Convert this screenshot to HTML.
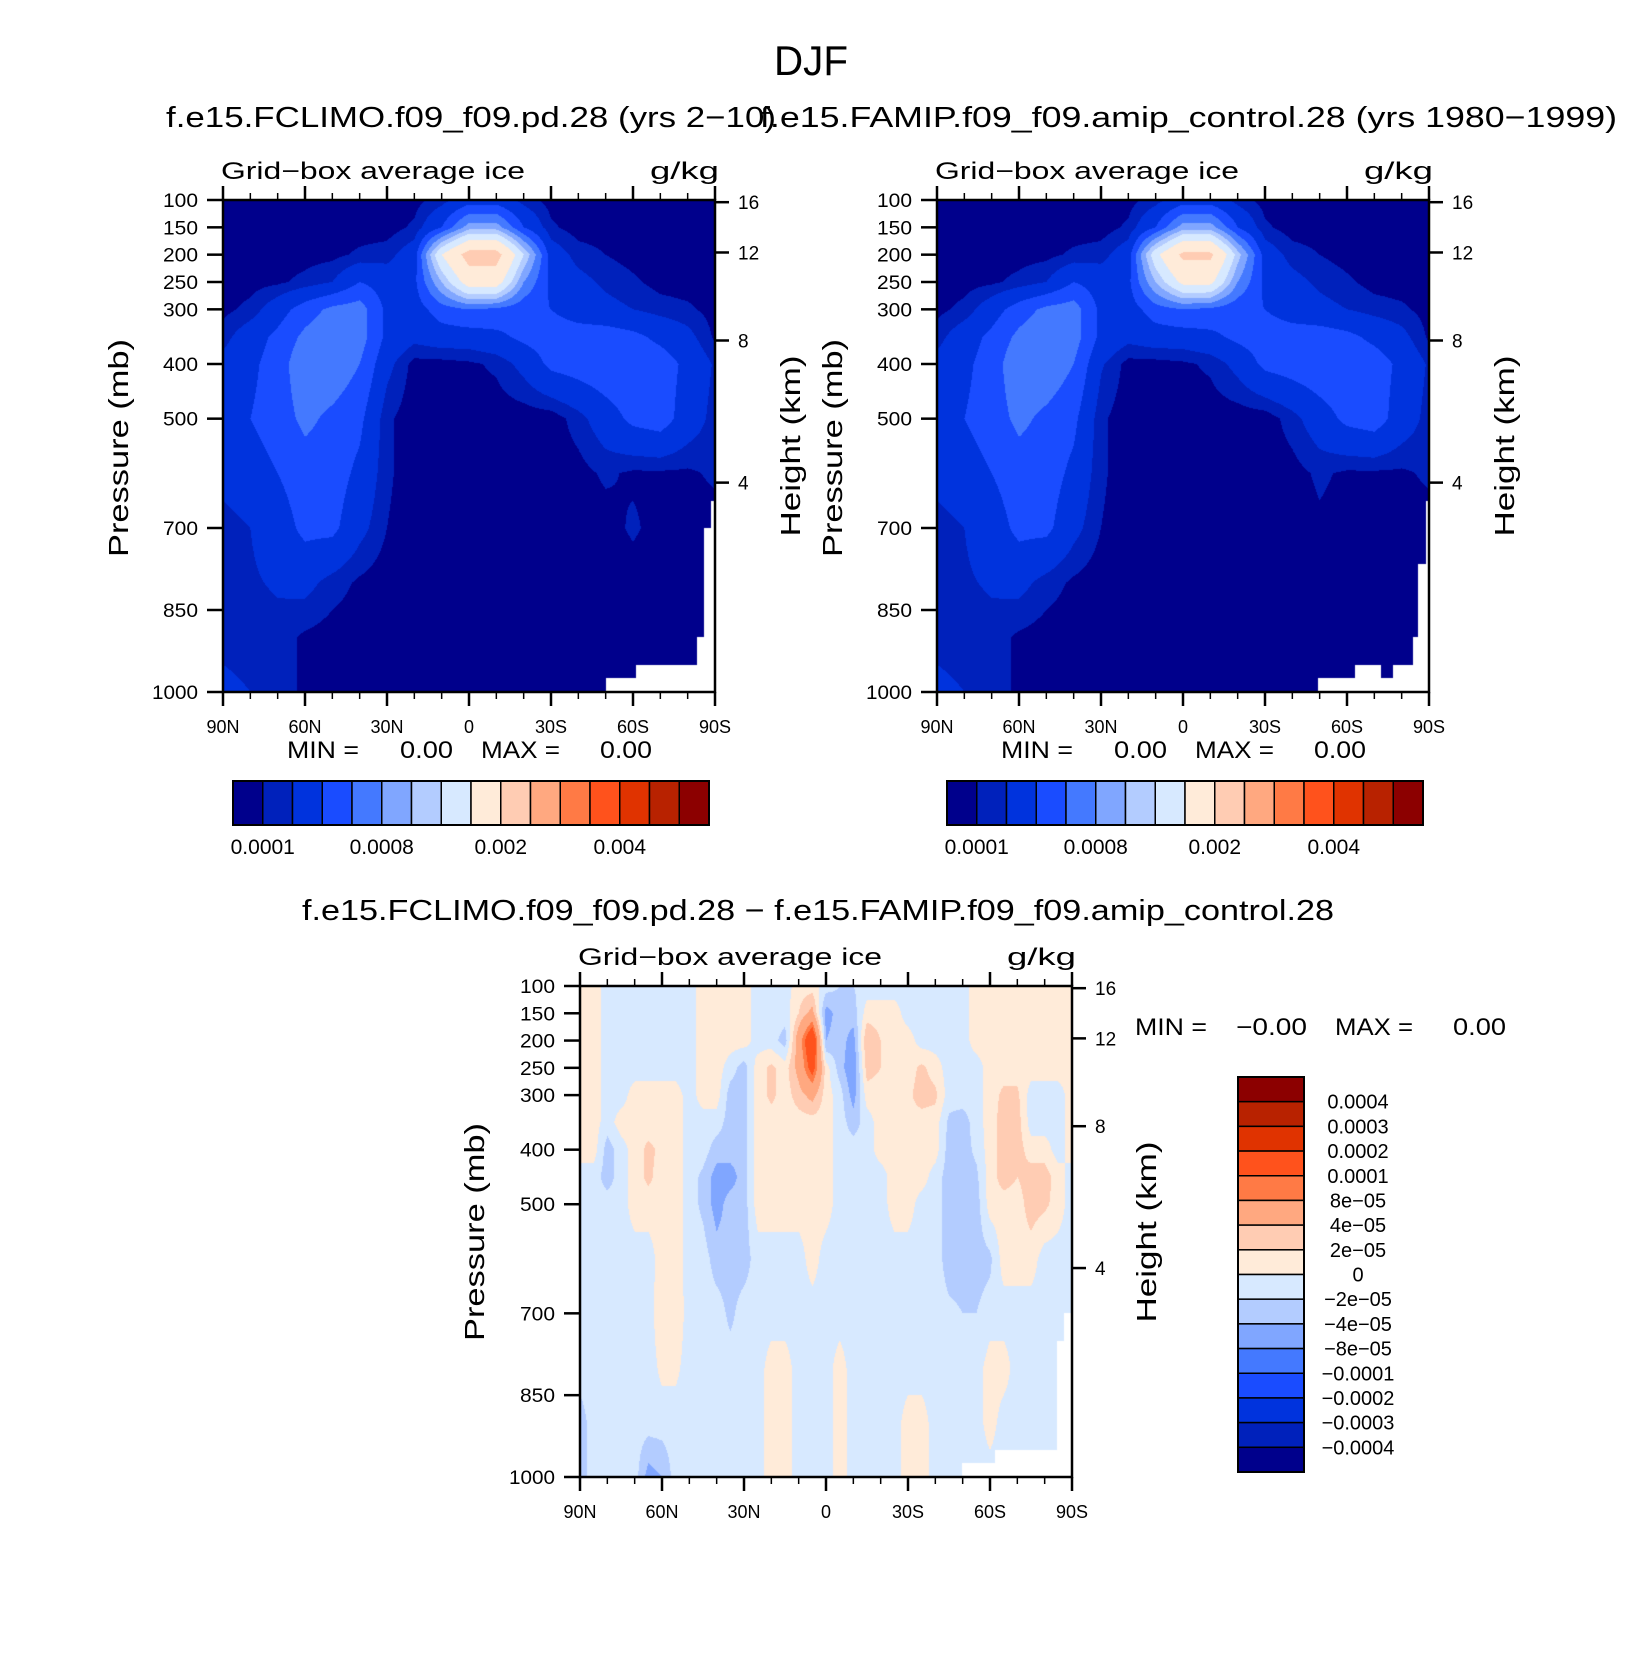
<!DOCTYPE html>
<html><head><meta charset="utf-8">
<style>
html,body{margin:0;padding:0;background:#fff;}
#root{position:relative;width:1652px;height:1677px;overflow:hidden;background:#fff;}
canvas{position:absolute;}
svg{position:absolute;left:0;top:0;}
text{font-family:"Liberation Sans",sans-serif;fill:#000;}
</style></head>
<body>
<div id="root">
<canvas id="c1" width="492" height="492" style="left:223px;top:200px"></canvas>
<canvas id="c2" width="492" height="492" style="left:937px;top:200px"></canvas>
<canvas id="c3" width="492" height="491" style="left:580px;top:986px"></canvas>
<svg id="ov" width="1652" height="1677" viewBox="0 0 1652 1677">
<text x="811" y="75" font-size="42" text-anchor="middle" textLength="74" lengthAdjust="spacingAndGlyphs">DJF</text>
<text x="166" y="127" font-size="29" textLength="610" lengthAdjust="spacingAndGlyphs">f.e15.FCLIMO.f09_f09.pd.28 (yrs 2−10)</text>
<text x="760" y="127" font-size="29" textLength="857" lengthAdjust="spacingAndGlyphs">f.e15.FAMIP.f09_f09.amip_control.28 (yrs 1980−1999)</text>
<text x="302" y="920" font-size="29" textLength="1032" lengthAdjust="spacingAndGlyphs">f.e15.FCLIMO.f09_f09.pd.28 − f.e15.FAMIP.f09_f09.amip_control.28</text>
</svg>
</div>
<script>
// ---------- data ----------
const lats10 = [90,80,70,60,50,40,30,20,10,0,-10,-20,-30,-40,-50,-60,-70,-80,-90];
const presTop = [100,150,200,250,300,350,400,500,600,700,800,900,1000];
// grid-box average ice, units of 1e-4 g/kg (rows = pressure, cols = latitude 90N..90S)
const iceClimo = [
[0.5,0.5,0.5,0.5,0.5,0.5,0.5,0.6,1.5,3,3,1.5,0.6,0.5,0.5,0.5,0.5,0.5,0.5],
[0.5,0.5,0.5,0.5,0.5,0.5,0.5,1.2,4,9,9,4,1.2,0.5,0.5,0.5,0.5,0.5,0.5],
[0.5,0.5,0.5,0.6,0.7,1.2,1.5,3,15,22,22,12,3,1.5,1,0.6,0.5,0.5,0.5],
[0.5,0.6,0.8,1.3,2,4,3,3.5,10,17,17,8,3.5,2.5,1.7,1.2,0.6,0.5,0.5],
[0.7,1.3,3,5,6.5,7,3.5,3,5,6,5.5,4.5,4,3,2.5,2,1.5,1.2,0.6],
[1.5,3,4.5,6.5,7.5,7,3.5,2.5,3,3,3.5,4.5,5,5,5,4.5,3.5,2.5,0.8],
[2.5,3.5,5,7.5,7.5,6,2.5,0.6,0.6,0.8,1.2,2.5,4.5,5,5.5,5.5,5,3.5,1.8],
[3,4,5,6.5,5.5,4.5,1.2,0.4,0.4,0.4,0.4,0.4,0.4,1.5,3,4.5,5,3,1.5],
[2.5,3,4,5,5,3.5,1.2,0.4,0.4,0.4,0.4,0.4,0.4,0.6,1.2,0.8,0.8,0.8,1.2],
[1.5,2,3,4.5,4.5,2.5,1,0.4,0.4,0.4,0.4,0.4,0.4,0.4,0.5,1.2,0.5,0.5,0.5],
[1.5,1.8,2.2,2.5,1.5,0.8,0.4,0.4,0.4,0.4,0.4,0.4,0.4,0.4,0.4,0.4,0.4,0.4,0.4],
[1.5,1.3,1.5,0.8,0.5,0.4,0.4,0.4,0.4,0.4,0.4,0.4,0.4,0.4,0.4,0.4,0.4,0.4,0.4],
[2.5,2,1.5,0.8,0.4,0.4,0.4,0.4,0.4,0.4,0.4,0.4,0.4,0.4,0.4,0.4,0.4,0.4,0.4]
];
const iceAmip = [
[0.5,0.5,0.5,0.5,0.5,0.5,0.5,0.6,1.5,3,3,1.5,0.6,0.5,0.5,0.5,0.5,0.5,0.5],
[0.5,0.5,0.5,0.5,0.5,0.5,0.5,1.2,4,9,9,4,1.2,0.5,0.5,0.5,0.5,0.5,0.5],
[0.5,0.5,0.5,0.6,0.7,1.2,1.5,3,14,21,21,11,3,1.5,1,0.6,0.5,0.5,0.5],
[0.5,0.6,0.8,1.3,2,4,3,3.5,10,16,16,8,3.5,2.5,1.7,1.2,0.6,0.5,0.5],
[0.7,1.3,3,5,6.5,7,3.5,3,5,6,5.5,4.5,4,3,2.5,2,1.5,1.2,0.6],
[1.5,3,4.5,6.5,7.5,7,3.5,2.5,3,3,3.5,4.5,5,5,5,4.5,3.5,2.5,0.8],
[2.5,3.5,5,7.5,7.5,6,2.2,0.6,0.6,0.8,1.2,2.5,4.5,5,5.5,5.5,5,3.5,1.8],
[3,4,5,6.5,5.5,4.5,1.2,0.4,0.4,0.4,0.4,0.4,0.4,1.5,3,4.5,5,3,1.5],
[2.5,3,4,5,5,3.5,1.2,0.4,0.4,0.4,0.4,0.4,0.4,0.6,1.2,0.8,0.8,0.8,1.2],
[1.5,2,3,4.5,4.5,2.5,1,0.4,0.4,0.4,0.4,0.4,0.4,0.4,0.8,0.5,0.5,0.5,0.5],
[1.5,1.8,2.2,2.5,1.5,0.8,0.4,0.4,0.4,0.4,0.4,0.4,0.4,0.4,0.4,0.4,0.4,0.4,0.4],
[1.5,1.3,1.5,0.8,0.5,0.4,0.4,0.4,0.4,0.4,0.4,0.4,0.4,0.4,0.4,0.4,0.4,0.4,0.4],
[2.5,2,1.5,0.8,0.4,0.4,0.4,0.4,0.4,0.4,0.4,0.4,0.4,0.4,0.4,0.4,0.4,0.4,0.4]
];
const levelsTop = [1,2,4,6,8,10,12,15,20,25,30,35,40,45,50];
const lats5 = [90,85,80,75,70,65,60,55,50,45,40,35,30,25,20,15,10,5,0,-5,-10,-15,-20,-25,-30,-35,-40,-45,-50,-55,-60,-65,-70,-75,-80,-85,-90];
const presDiff = [100,150,200,250,300,350,400,450,500,600,700,800,900,1000];
// difference, units of 1e-5 g/kg
const iceDiff = [
[1,1,-1,-1,-1,-1,-1,-1,-1, 1,1,1,1, -1,-1,-1, 1,1, -1,-2,-2,-1,-1,-1,-1,-1,-1,-1,-1, 1,1,1,1,1,1,1,1],
[1,1,-1,-1,-1,-1,-1,-1,-1, 1,1,1,1, -1,-1,-1, 2,5, -5,-3,-3,1,1,1,-1,-1,-1,-1,-1, 1,1,1,1,1,1,1,1],
[1,1,-1,-1,-1,-1,-1,-1,-1, 1,1,1,1, -1,-1,-3, 6,15, -4,-3,-5,4,2,1,1,-1,-1,-1,-1, 1,1,1,1,1,1,1,1],
[1,1,-1,-1,-1,-1,-1,-1,-1, 1,1,-1,-3, 1,2.5,1, 5,12, 1,-3,-6,3,2,1.5,1,2.5,1,-1,-1, -1,1,1,1,1,1,1,1],
[1,1,-1,-1,1,1,1,1,-1, 1,1,-3,-3, 1,2.5,1, 3,5, 1,-1,-5,1,1,1.5,1.5,3,2.5,-1,-1, -1,1,2.5,2.5,-1,-1,-1,1],
[1,1,-1,1,1,1,1,1,-1, -1,-1,-3,-3, 1,1,1, 1,1, 1,-1,-3,-1,1,1,1.5,1,1,-2.5,-3, -1,1,3,3,-1,-1,-1,1],
[1,1,-3,-1,1,2.5,1.5,1,-1, -1,-3,-3,-3, 1,1,1, 1,1, 1,-1,-1,-1,1,1,1,1,1,-3,-3, -1.5,1,3,3,1,1,-1,1],
[-1,-1,-3,-1,1,2.5,1,1,-1, -2.5,-5,-5,-3, 1,1,1, 1,1, 1,-1,-1,-1,-1,1,1,1,-1,-3,-3, -2.5,1,3,2,3,3,1,-1],
[-1,-1,-1,-1,1,1,1,1,-1, -2.5,-5,-3,-3, 1,1,1, 1,1, 1,-1,-1,-1,-1,1,1,-1,-1,-3,-3, -3,1,1,1,3,2.5,1,-1],
[-1,-1,-1,-1,-1,-1,1,1,-1, -1,-3,-3,-3, -1,-1,-1, -1,1, -1,-1,-1,-1,-1,-1,-1,-1,-1,-3,-3, -3,-2.5,1,1,1,-1,-1,-1],
[-1,-1,-1,-1,-1,-1,1.5,1.5,-1, -1,-1,-2.5,-1, -1,-1,-1, -1,-1, -1,-1,-1,-1,-1,-1,-1,-1,-1,-1.5,-2, -2,-1,-1,-1,-1,-1,-1,-1],
[-1,-1,-1,-1,-1,-1,0.5,0.5,-1, -1,-1,-1,-1, -1,1,1, -1,-1, -1,1,-1,-1,-1,-1,-1,-1,-1,-1,-1, -1,1,1,-1,-1,-1,-1,-1],
[-3,-1,-1,-1,-1,-1,-1,-1,-1, -1,-1,-1,-1, -1,1,1, -1,-1, -1,1,-1,-1,-1,-1,1,1,-1,-1,-1, -1,1,-1,-1,-1,-1,-1,-1],
[-3,-1,-1,-1,-1,-5,-4,-1,-1, -1,-1,-1,-1, -1,1,1, -1,-1, -1,1,-1,-1,-1,-1,1,1,-1,-1,-1, -1,-1,-1,-1,-1,-1,-1,-1]
];
const levelsDiff = [-40,-30,-20,-10,-8,-4,-2,0,2,4,8,10,20,30,40];
const palette = ["#00008C","#0021BB","#0033DD","#1A4CFF","#4479FF","#80A6FF","#B3CCFF","#D7E9FF","#FFEBD9","#FFCCB3","#FFA880","#FF7A45","#FF521C","#E03300","#B82200","#8C0000"];
// below-ground (missing) regions: latitude bound and surface pressure
const maskClimoLat = [-50,-61,-83.5,-86,-88.5];
const maskClimoP = [975,950,900,700,650];
const maskAmipLat = [-49.4,-63,-72.6,-77,-84,-86,-88.8];
const maskAmipP = [975,950,975,950,900,765,650];
const maskDiffLat = [-49.6,-61.7,-84.5,-87];
const maskDiffP = [975,950,750,700];
const xTickLats = [90,60,30,0,-30,-60,-90];
const xTickLabels = ["90N","60N","30N","0","30S","60S","90S"];
const presTicks = [100,150,200,250,300,400,500,700,850,1000];
const presLabels = ["100","150","200","250","300","400","500","700","850","1000"];
const kmTicks = [16,12,8,4];
const kmPres = [104,196,357,617];
const cbTopLabels = ["0.0001","0.0008","0.002","0.004"];
const cbTopLabelIdx = [0,4,8,12];
const cbDiffLabels = ["0.0004","0.0003","0.0002","0.0001","8e−05","4e−05","2e−05","0","−2e−05","−4e−05","−8e−05","−0.0001","−0.0002","−0.0003","−0.0004"];

// ---------- helpers ----------
const NS = "http://www.w3.org/2000/svg";
const ov = document.getElementById("ov");
function mk(tag, attrs, txt){const e=document.createElementNS(NS,tag);for(const k in attrs)e.setAttribute(k,attrs[k]);if(txt!==undefined)e.textContent=txt;ov.appendChild(e);return e;}
function hex(c){return [parseInt(c.slice(1,3),16),parseInt(c.slice(3,5),16),parseInt(c.slice(5,7),16)];}
const palRGB = palette.map(hex);
function bracket(arr,v,desc){
  for(let i=0;i<arr.length-1;i++){
    const a=arr[i],b=arr[i+1];
    if(desc? (v<=a&&v>=b):(v>=a&&v<=b)) return [i,(v-a)/(b-a)];
  }
  return desc? (v>arr[0]?[0,0]:[arr.length-2,1]) : (v<arr[0]?[0,0]:[arr.length-2,1]);
}
function makeAxes(x0,y0,w,h){
  return {x:lat=>x0+(90-lat)/180*w, y:p=>y0+(p-100)/900*h, lat:px=>90-px/w*180, p:py=>100+py/h*900};
}
function render(canvasId, ax, w, h, field, lats, pres, levels, mLat, mP){
  const cv=document.getElementById(canvasId), ctx=cv.getContext("2d");
  const img=ctx.createImageData(w,h);
  for(let py=0;py<h;py++){
    const p=ax.p(py+0.5);
    const [i,fy]=bracket(pres,p,false);
    for(let px=0;px<w;px++){
      const lat=ax.lat(px+0.5);
      let masked=false;
      let thr=null;
      for(let k=0;k<mLat.length;k++){ if(lat<mLat[k]) thr=mP[k]; }
      if(thr!==null && p>thr) masked=true;
      const o=(py*w+px)*4;
      if(masked){img.data[o]=255;img.data[o+1]=255;img.data[o+2]=255;img.data[o+3]=255;continue;}
      const [j,fx]=bracket(lats,lat,true);
      const v=(1-fy)*((1-fx)*field[i][j]+fx*field[i][j+1])+fy*((1-fx)*field[i+1][j]+fx*field[i+1][j+1]);
      let idx=0; while(idx<levels.length && v>=levels[idx]) idx++;
      const c=palRGB[idx];
      img.data[o]=c[0];img.data[o+1]=c[1];img.data[o+2]=c[2];img.data[o+3]=255;
    }
  }
  ctx.putImageData(img,0,0);
}
function frame(ax,x0,y0,w,h,tag,labels){
  let e;
  e=mk("rect",{x:x0,y:y0,width:w,height:h,fill:"none",stroke:"#000","stroke-width":2.5});
  
  
  for(let lat=90;lat>=-90;lat-=10){
    const major=(lat%30===0), L=major?14:7, x=ax.x(lat);
    e=mk("line",{x1:x,y1:y0,x2:x,y2:y0-L,stroke:"#000","stroke-width":major?2.5:1.5});
    
    
    e=mk("line",{x1:x,y1:y0+h,x2:x,y2:y0+h+L,stroke:"#000","stroke-width":major?2.5:1.5});
    
    
  }
  xTickLats.forEach((lat,k)=>{
    e=mk("text",{x:ax.x(lat),y:y0+h+41,"font-size":18,"text-anchor":"middle"},xTickLabels[k]);
    
    
  });
  presTicks.forEach((p,k)=>{
    const y=ax.y(p);
    e=mk("line",{x1:x0,y1:y,x2:x0-16,y2:y,stroke:"#000","stroke-width":2.5});
    
    
    const lab=presLabels[k];
    e=mk("text",{x:x0-25,y:y+7,"font-size":19,"text-anchor":"end",textLength:lab.length===4?46:35,lengthAdjust:"spacingAndGlyphs"},lab);
    
    
  });
  kmTicks.forEach((z,k)=>{
    const y=ax.y(kmPres[k]);
    e=mk("line",{x1:x0+w,y1:y,x2:x0+w+14,y2:y,stroke:"#000","stroke-width":2.5});
    
    
    e=mk("text",{x:x0+w+23,y:y+7,"font-size":19},String(z));
    
    
  });
  e=mk("text",{x:x0-2,y:y0-21,"font-size":24,textLength:304,lengthAdjust:"spacingAndGlyphs"},"Grid−box average ice");
  
  
  e=mk("text",{x:x0+w+4,y:y0-21,"font-size":24,"text-anchor":"end",textLength:69,lengthAdjust:"spacingAndGlyphs"},"g/kg");
  
  
  const pc=labels.pres, hc=labels.height;
  e=mk("text",{x:0,y:0,"font-size":28,"text-anchor":"middle",textLength:218,lengthAdjust:"spacingAndGlyphs",transform:`translate(${pc[0]},${pc[1]}) rotate(-90)`},"Pressure  (mb)");
  
  
  e=mk("text",{x:0,y:0,"font-size":28,"text-anchor":"middle",textLength:181,lengthAdjust:"spacingAndGlyphs",transform:`translate(${hc[0]},${hc[1]}) rotate(-90)`},"Height  (km)");
  
  
}
function minmax(tag,parts,y){
  parts.forEach(pt=>{
    const e=mk("text",{x:pt[0],y:y,"font-size":24,textLength:pt[2],lengthAdjust:"spacingAndGlyphs"},pt[1]);
    
    
  });
}
function hbar(tag,x0,y0,w,h){
  const bw=w/palette.length; let e;
  palette.forEach((c,k)=>{
    e=mk("rect",{x:x0+k*bw,y:y0,width:bw,height:h,fill:c,stroke:"#000","stroke-width":1.5});
    
    
  });
  e=mk("rect",{x:x0,y:y0,width:w,height:h,fill:"none",stroke:"#000","stroke-width":2});
  
  
  cbTopLabels.forEach((s,k)=>{
    e=mk("text",{x:x0+(cbTopLabelIdx[k]+1)*bw,y:y0+h+29,"font-size":21,"text-anchor":"middle"},s);
    
    
  });
}

// ---------- panels ----------
const A1=makeAxes(223,200,492,492), A2=makeAxes(937,200,492,492), A3=makeAxes(580,986,492,491);
render("c1",A1,492,492,iceClimo,lats10,presTop,levelsTop,maskClimoLat,maskClimoP);
render("c2",A2,492,492,iceAmip,lats10,presTop,levelsTop,maskAmipLat,maskAmipP);
render("c3",A3,492,491,iceDiff,lats5,presDiff,levelsDiff,maskDiffLat,maskDiffP);
frame(A1,223,200,492,492,"fclimo",{pres:[128,448],height:[800,446]});
frame(A2,937,200,492,492,"famip",{pres:[842,448],height:[1514,446]});
frame(A3,580,986,492,491,"difference",{pres:[484,1232],height:[1156,1232]});
minmax("fclimo",[[287,"MIN  =",72],[400,"0.00",53],[481,"MAX  =",79],[600,"0.00",52]],758);
minmax("famip",[[1001,"MIN  =",72],[1114,"0.00",53],[1195,"MAX  =",79],[1314,"0.00",52]],758);
minmax("difference",[[1135,"MIN  =",72],[1236,"−0.00",71],[1335,"MAX  =",78],[1453,"0.00",53]],1035);
hbar("fclimo",233,781,476,44);
hbar("famip",947,781,476,44);
// vertical colorbar for difference (top = largest)
(function(){
  const x0=1238,y0=1077,w=66,h=395,bh=h/palette.length; let e;
  for(let k=0;k<palette.length;k++){
    e=mk("rect",{x:x0,y:y0+k*bh,width:w,height:bh,fill:palette[palette.length-1-k],stroke:"#000","stroke-width":1.5});
    
    
  }
  e=mk("rect",{x:x0,y:y0,width:w,height:h,fill:"none",stroke:"#000","stroke-width":2});
  
  
  cbDiffLabels.forEach((s,k)=>{
    e=mk("text",{x:1358,y:y0+(k+1)*bh+7,"font-size":20,"text-anchor":"middle"},s);
    
    
  });
})();
</script>
</body></html>
